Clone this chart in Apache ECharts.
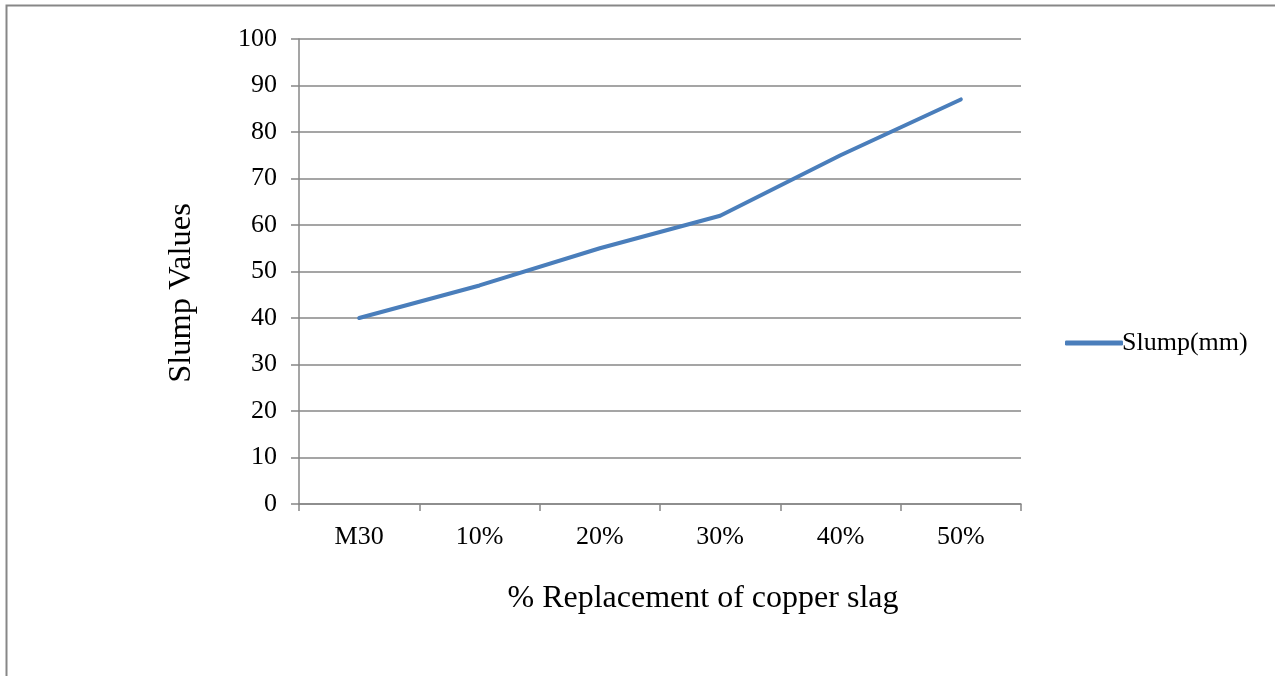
<!DOCTYPE html>
<html><head><meta charset="utf-8">
<script src="https://cdn.jsdelivr.net/npm/echarts@6/dist/echarts.min.js"></script>
<style>html,body{margin:0;padding:0;background:#fff}#c{width:1275px;height:676px}</style>
</head><body><div id="c"></div>
<script>
var categories = ['M30','10%','20%','30%','40%','50%'];
var slump = [40, 47, 55, 62, 75, 87];
var seriesName = 'Slump(mm)';
var xTitle = '% Replacement of copper slag';
var yTitle = 'Slump Values';
var chart = echarts.init(document.getElementById('c'));
var font = '"Liberation Serif","Times New Roman",serif';
chart.setOption({
  animation:false,
  graphic:[
    {type:'polyline',shape:{points:[[6.5,700],[6.5,5.5],[1300,5.5]]},style:{stroke:'#878787',lineWidth:2,fill:null}},
    {type:'text',x:703,y:599,style:{text:xTitle,font:'32px '+font,fill:'#000',align:'center',verticalAlign:'middle'}},
    {type:'text',x:181,y:293,rotation:Math.PI/2,style:{text:yTitle,font:'32.5px '+font,fill:'#000',align:'center',verticalAlign:'middle'}}
  ],
  grid:{left:299,right:254,top:39,bottom:172,containLabel:false},
  legend:{data:[seriesName],left:1060,top:325,orient:'vertical',itemWidth:58,itemHeight:5,itemGap:0,
    icon:'roundRect',textStyle:{fontFamily:font,fontSize:26,color:'#000',padding:[0,0,0,-6]}},
  xAxis:{type:'category',data:categories,boundaryGap:true,
    axisLine:{lineStyle:{color:'#878787',width:1.5}},
    axisTick:{show:true,length:7,lineStyle:{color:'#878787',width:1.5}},
    axisLabel:{fontFamily:font,fontSize:26,color:'#000',margin:20}},
  yAxis:{type:'value',min:0,max:100,interval:10,
    axisLine:{show:true,lineStyle:{color:'#878787',width:1.5}},
    axisTick:{show:true,length:8,lineStyle:{color:'#878787',width:1.5}},
    splitLine:{lineStyle:{color:'#878787',width:1.5}},
    axisLabel:{fontFamily:font,fontSize:26,color:'#000',margin:22}},
  series:[{name:seriesName,type:'line',data:slump,symbol:'none',
    lineStyle:{color:'#4A7EBB',width:4,cap:'round'},itemStyle:{color:'#4A7EBB'}}]
});
</script></body></html>
